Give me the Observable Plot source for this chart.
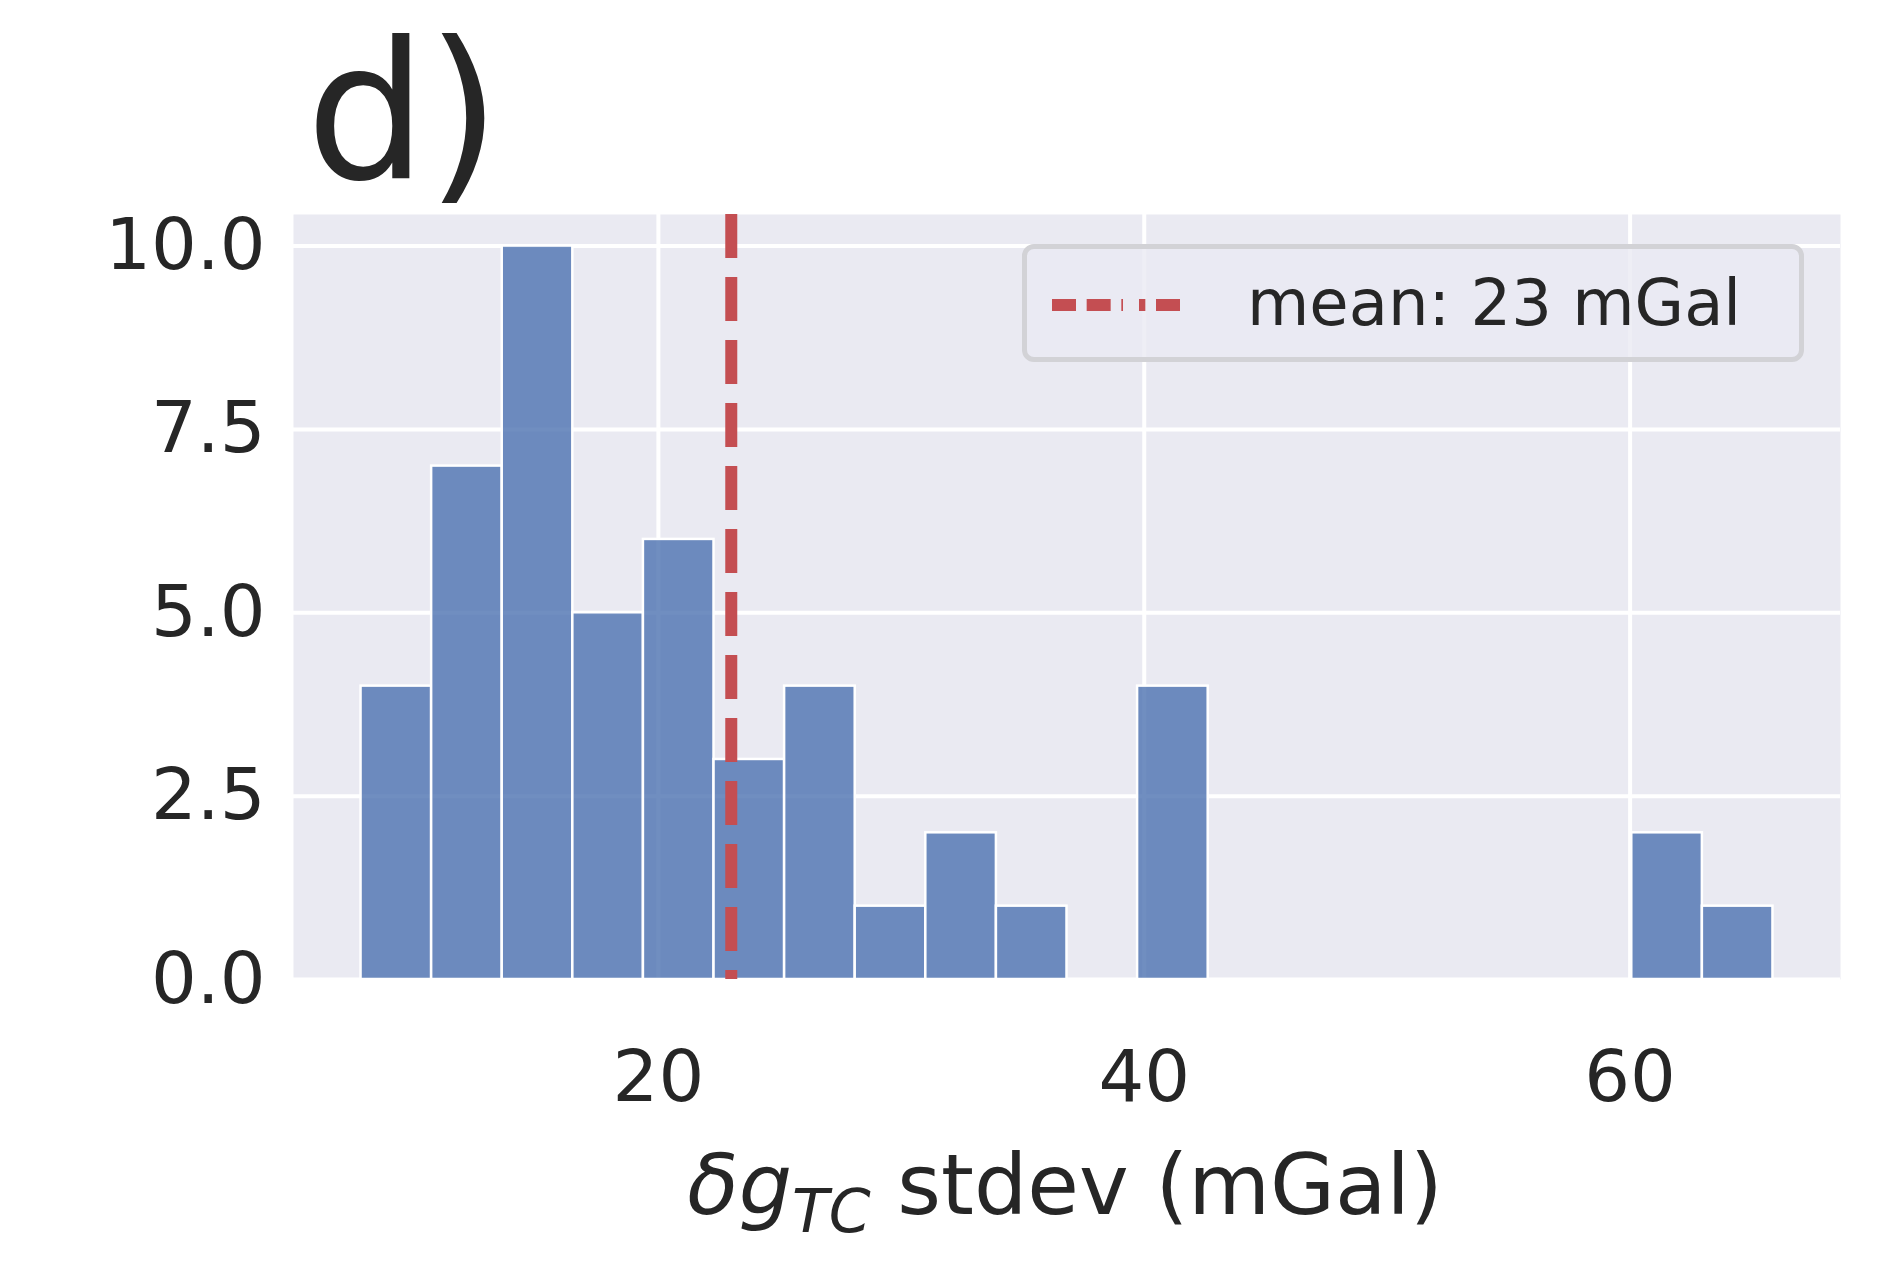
<!DOCTYPE html>
<html><head><meta charset="utf-8">
<script src="https://cdn.jsdelivr.net/npm/d3@7"></script>
<script src="https://cdn.jsdelivr.net/npm/@observablehq/plot@0.6"></script>
<style>
body{margin:0;background:#fff;font-family:"DejaVu Sans",sans-serif;}
#wrap{position:relative;width:1886px;height:1281px;}
.ov{position:absolute;color:#262626;white-space:nowrap;}
</style></head><body>
<div id="wrap"></div>
<script>
const binStart = 7.76;
const binWidth = 2.906;
const counts = [4,7,10,5,6,3,4,1,2,1,0,4,0,0,0,0,0,0,2,1];
const meanValue = 23;
const xTicks = [20,40,60];
const yTicks = [0,2.5,5,7.5,10];
const panelLabel = "d)";
const legendLabel = "mean: 23 mGal";

const bins = counts.map((c,i)=>({x1:binStart+i*binWidth,x2:binStart+(i+1)*binWidth,count:c})).filter(d=>d.count>0);

const plot = Plot.plot({
  width:1886,height:1281,
  marginLeft:293,marginRight:46,marginTop:214,marginBottom:302,
  style:{fontFamily:"DejaVu Sans",fontSize:"72px",color:"#262626",background:"transparent"},
  x:{domain:[4.98,68.66],ticks:xTicks,tickSize:0,tickPadding:70,label:null},
  y:{domain:[0,10.43],ticks:yTicks,tickSize:0,tickPadding:28,label:null,tickFormat:d3.format(".1f")},
  marks:[
    Plot.frame({fill:"#eaeaf2",stroke:null}),
    Plot.gridX(xTicks,{stroke:"#fff",strokeOpacity:1,strokeWidth:4}),
    Plot.gridY(yTicks,{stroke:"#fff",strokeOpacity:1,strokeWidth:4}),
    Plot.rectY(bins,{x1:"x1",x2:"x2",y:"count",fill:"#4c72b0",fillOpacity:0.8,stroke:"#fff",strokeWidth:2.5}),
    Plot.ruleX([meanValue],{stroke:"#c44e52",strokeWidth:12,strokeDasharray:"44,19"}),
    Plot.axisX({ticks:xTicks,tickSize:0,tickPadding:70,fontSize:72}),
    Plot.axisY({ticks:yTicks,tickSize:0,tickPadding:28,fontSize:72,tickFormat:d3.format(".1f")})
  ]
});
const wrap=document.getElementById("wrap");
wrap.appendChild(plot);

const d=document.createElement("div");d.className="ov";
d.style.cssText+="left:306px;top:18px;font-size:190px;line-height:1;";
d.textContent=panelLabel;wrap.appendChild(d);

const lg=document.createElement("div");lg.className="ov";
lg.style.cssText+="left:1022px;top:244px;width:782px;height:118px;border:5px solid #d2d2d6;border-radius:12px;background:rgba(234,234,242,0.8);box-sizing:border-box;";
lg.innerHTML='<div style="position:absolute;left:25px;top:50px;width:128px;height:0;border-top:12px dashed #c44e52;"></div>'+
 '<div style="position:absolute;left:96px;top:50px;width:16px;height:12px;background:#eaeaf2;"></div>'+
 '<div style="position:absolute;left:220px;top:16px;font-size:64px;line-height:1.2;">'+legendLabel+'</div>';
wrap.appendChild(lg);

const xl=document.createElement("div");xl.className="ov";
xl.style.cssText+="left:0;width:2130px;text-align:center;top:1135px;font-size:84px;line-height:1.2;";
xl.innerHTML='<i>δg<sub style="font-size:60px;vertical-align:-18px">TC</sub></i> stdev (mGal)';
wrap.appendChild(xl);
</script>
</body></html>
